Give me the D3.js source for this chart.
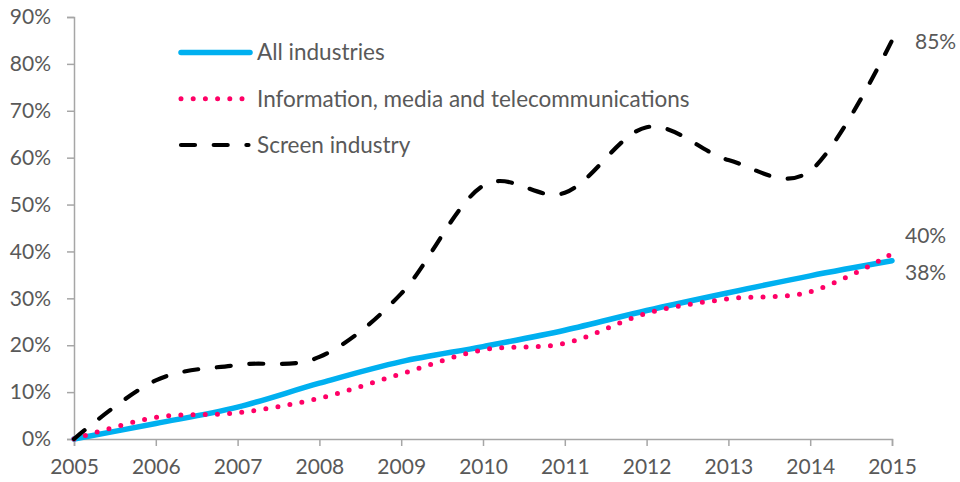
<!DOCTYPE html>
<html>
<head>
<meta charset="utf-8">
<script src="https://cdn.jsdelivr.net/npm/d3@7"></script>
<style>
  html, body { margin: 0; padding: 0; background: #fff; }
  svg { display: block; }
  text { font-family: Lato, "Open Sans", sans-serif; fill: #595959; }
</style>
</head>
<body>
<svg id="chart" width="960" height="482"></svg>
<script>
const years = [2005, 2006, 2007, 2008, 2009, 2010, 2011, 2012, 2013, 2014, 2015];
const allIndustries = [0, 3.3, 6.8, 11.9, 16.5, 19.7, 23.2, 27.4, 31.2, 34.8, 38.0];
const infoMedia = [0, 4.6, 5.6, 8.7, 13.9, 19.0, 20.4, 26.8, 29.9, 31.4, 39.5];
const screenIndustry = [0, 12.5, 15.8, 17.5, 31.0, 54.0, 52.5, 66.5, 59.5, 57.2, 85.0];
const yTicks = [0, 10, 20, 30, 40, 50, 60, 70, 80, 90];
const seriesNames = ["All industries", "Information, media and telecommunications", "Screen industry"];
const endLabels = ["38%", "40%", "85%"];

const svg = d3.select("#chart");
const margin = { left: 74, right: 68, top: 17, bottom: 43 };
const W = 960, H = 482;

const x = d3.scaleLinear().domain([2005, 2015]).range([margin.left, W - margin.right]);
const y = d3.scaleLinear().domain([0, 90]).range([H - margin.bottom, margin.top]);

const axisColor = "#A6A6A6";

// Y axis
const yAxis = svg.append("g")
  .attr("transform", `translate(${margin.left},0)`)
  .call(d3.axisLeft(y).tickValues(yTicks).tickSize(7).tickPadding(16).tickFormat(d => d + "%"));
yAxis.select(".domain").attr("stroke", axisColor).attr("stroke-width", 1.5);
yAxis.selectAll(".tick line").attr("stroke", axisColor).attr("stroke-width", 1.5);
yAxis.selectAll(".tick text").attr("font-size", 21).attr("fill", "#595959")
  .attr("font-family", "Lato, 'Open Sans', sans-serif");

// X axis
const xAxis = svg.append("g")
  .attr("transform", `translate(0,${y(0)})`)
  .call(d3.axisBottom(x).tickValues(years).tickSize(7).tickPadding(13).tickFormat(d3.format("d")));
xAxis.select(".domain").attr("stroke", axisColor).attr("stroke-width", 1.5);
xAxis.selectAll(".tick line").attr("stroke", axisColor).attr("stroke-width", 1.5);
xAxis.selectAll(".tick text").attr("font-size", 21).attr("fill", "#595959")
  .attr("font-family", "Lato, 'Open Sans', sans-serif");

const line = d3.line()
  .x((d, i) => x(years[i]))
  .y(d => y(d))
  .curve(d3.curveCardinal.tension(0));

const styles = [
  { color: "#00B0F0", width: 5.5, dash: null, cap: "round" },
  { color: "#FF0066", width: 5, dash: "0,12.2", cap: "round" },
  { color: "#000000", width: 4.2, dash: "14,18.7", cap: "round" }
];
const data = [allIndustries, infoMedia, screenIndustry];

data.forEach((vals, i) => {
  svg.append("path")
    .datum(vals)
    .attr("d", line)
    .attr("fill", "none")
    .attr("stroke", styles[i].color)
    .attr("stroke-width", styles[i].width)
    .attr("stroke-linecap", styles[i].cap)
    .attr("stroke-linejoin", "round")
    .attr("stroke-dasharray", styles[i].dash);
});

// End labels
const lastIdx = years.length - 1;
svg.append("text").attr("x", x(2015) + 13).attr("y", y(allIndustries[lastIdx]) + 12).attr("dy", "0.35em")
  .attr("font-size", 21).text(endLabels[0]);
svg.append("text").attr("x", x(2015) + 13).attr("y", y(infoMedia[lastIdx]) - 18).attr("dy", "0.35em")
  .attr("font-size", 21).text(endLabels[1]);
svg.append("text").attr("x", x(2015) + 23).attr("y", y(screenIndustry[lastIdx]) + 1).attr("dy", "0.35em")
  .attr("font-size", 21).text(endLabels[2]);

// Legend
const legendY = [52.5, 98.7, 145];
const legend = svg.append("g");
seriesNames.forEach((name, i) => {
  legend.append("line")
    .attr("x1", 181).attr("x2", i === 1 ? 244 : i === 2 ? 248.5 : 250)
    .attr("y1", legendY[i]).attr("y2", legendY[i])
    .attr("stroke", styles[i].color)
    .attr("stroke-width", styles[i].width)
    .attr("stroke-linecap", styles[i].cap)
    .attr("stroke-dasharray", styles[i].dash);
  legend.append("text")
    .attr("x", 257).attr("y", legendY[i]).attr("dy", "0.35em")
    .attr("font-size", 22.5).text(name);
});
</script>
</body>
</html>
